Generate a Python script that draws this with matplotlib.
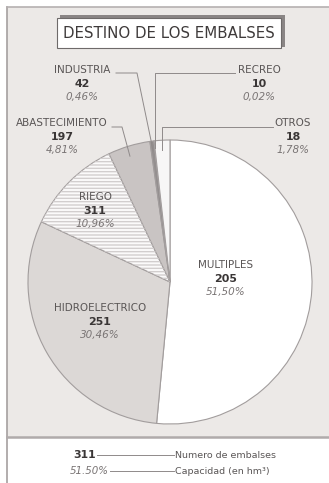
import numpy as np
import matplotlib.pyplot as plt
from matplotlib.patches import Wedge, Rectangle

# data
categories = ["MULTIPLES", "HIDROELECTRICO", "RIEGO", "ABASTECIMIENTO", "INDUSTRIA", "RECREO", "OTROS"]
counts = [205, 251, 311, 197, 42, 10, 18]
capacity = [51.50, 30.46, 10.96, 4.81, 0.46, 0.02, 1.78]
pct_labels = ["51,50%", "30,46%", "10,96%", "4,81%", "0,46%", "0,02%", "1,78%"]
colors = ["#ffffff", "#dcd8d6", "#fbfafa", "#c9c4c3", "#948f8f", "#b0abab", "#f7f6f6"]
legend_count = "311"
legend_pct = "51.50%"
legend_texts = ["Numero de embalses", "Capacidad (en hm³)"]

W, H = 329, 483
BG = "#ece9e7"
TXT = "#5a5656"
LINE = "#8f8a8a"
FONT = "DejaVu Sans"

def Y(py):
    return H - py

fig = plt.figure(figsize=(W / 100, H / 100), dpi=100)
ax = fig.add_axes([0, 0, 1, 1])

# panels
ax.add_patch(Rectangle((7, Y(437)), W - 7, 437 - 7, facecolor=BG, edgecolor="none", zorder=0))
ax.plot([7, 7], [Y(7), 0], color="#a5a0a0", lw=1.2, zorder=1)
ax.plot([7, W], [Y(7), Y(7)], color="#b5b0b0", lw=1.2, zorder=1)
ax.plot([7, W], [Y(437), Y(437)], color="#b0abab", lw=1.8, zorder=1)

# title box with shadow
ax.add_patch(Rectangle((60, Y(47)), 225, 32, facecolor="#8a8585", edgecolor="none", zorder=2))
ax.add_patch(Rectangle((57, Y(48)), 224, 30, facecolor="white", edgecolor="#6e6a6a", lw=0.8, zorder=3))
ax.text(169, Y(33), "DESTINO DE LOS EMBALSES", ha="center", va="center", fontsize=10.8,
        color="#3e3a3a", family=FONT, zorder=4)

# pie
cx, cy, r = 170, Y(282), 142
wedges, _ = ax.pie(capacity, colors=colors, startangle=90, counterclock=False,
                   center=(cx, cy), radius=r, frame=True,
                   wedgeprops=dict(edgecolor="#a29d9d", linewidth=0.8))
ax.set_xlim(0, W)
ax.set_ylim(0, H)
ax.set_aspect("equal")
ax.axis("off")

# hatch overlay on RIEGO
w = wedges[2]
ax.add_patch(Wedge(w.center, w.r, w.theta1, w.theta2, facecolor="none",
                   edgecolor="#d2cece", hatch="-----", linewidth=0, zorder=w.get_zorder() + 0.1))

def rim(i, frac=0.5, k=1.0):
    wd = wedges[i]
    a = np.deg2rad(wd.theta1 + (wd.theta2 - wd.theta1) * frac)
    return cx + k * r * np.cos(a), cy + k * r * np.sin(a)

def label(x, py, i, size=7.5):
    ax.text(x, Y(py), categories[i], ha="center", va="center", fontsize=size, color=TXT, family=FONT, zorder=6)
    ax.text(x, Y(py + 14), str(counts[i]), ha="center", va="center", fontsize=size + 0.4,
            color="#3a3636", fontweight="bold", family=FONT, zorder=6)
    ax.text(x, Y(py + 27), pct_labels[i], ha="center", va="center", fontsize=size,
            color="#7a7575", style="italic", family=FONT, zorder=6)

label(226, 265, 0)
label(100, 308, 1)
label(95, 197, 2)
label(62, 123, 3)
label(82, 70, 4)
label(259, 70, 5)
label(293, 123, 6)

# leader lines
ex, ey = rim(4, 0.5, 0.93)
ax.plot([116, 137, ex], [Y(73), Y(73), ey], color=LINE, lw=0.7, zorder=5)
ex, ey = rim(5, 0.5, 0.95)
ax.plot([235, 155, 155], [Y(73), Y(73), ey], color=LINE, lw=0.7, zorder=5)
ex, ey = rim(3, 0.55, 0.93)
ax.plot([112, 122, ex], [Y(127), Y(127), ey], color=LINE, lw=0.7, zorder=5)
ex, ey = rim(6, 0.45, 0.93)
ax.plot([273, 162, 162], [Y(127), Y(127), ey], color=LINE, lw=0.7, zorder=5)

# legend
ax.text(96, Y(455), legend_count, ha="right", va="center", fontsize=7.8, color="#3a3636",
        fontweight="bold", family=FONT)
ax.plot([97, 174], [Y(455), Y(455)], color=LINE, lw=0.7)
ax.text(175, Y(455), legend_texts[0], ha="left", va="center", fontsize=6.8, color=TXT, family=FONT)
ax.text(109, Y(471), legend_pct, ha="right", va="center", fontsize=7.4, color="#7a7575",
        style="italic", family=FONT)
ax.plot([110, 174], [Y(471), Y(471)], color=LINE, lw=0.7)
ax.text(175, Y(471), legend_texts[1], ha="left", va="center", fontsize=6.8, color=TXT, family=FONT)

fig.savefig("out.png", dpi=100)
